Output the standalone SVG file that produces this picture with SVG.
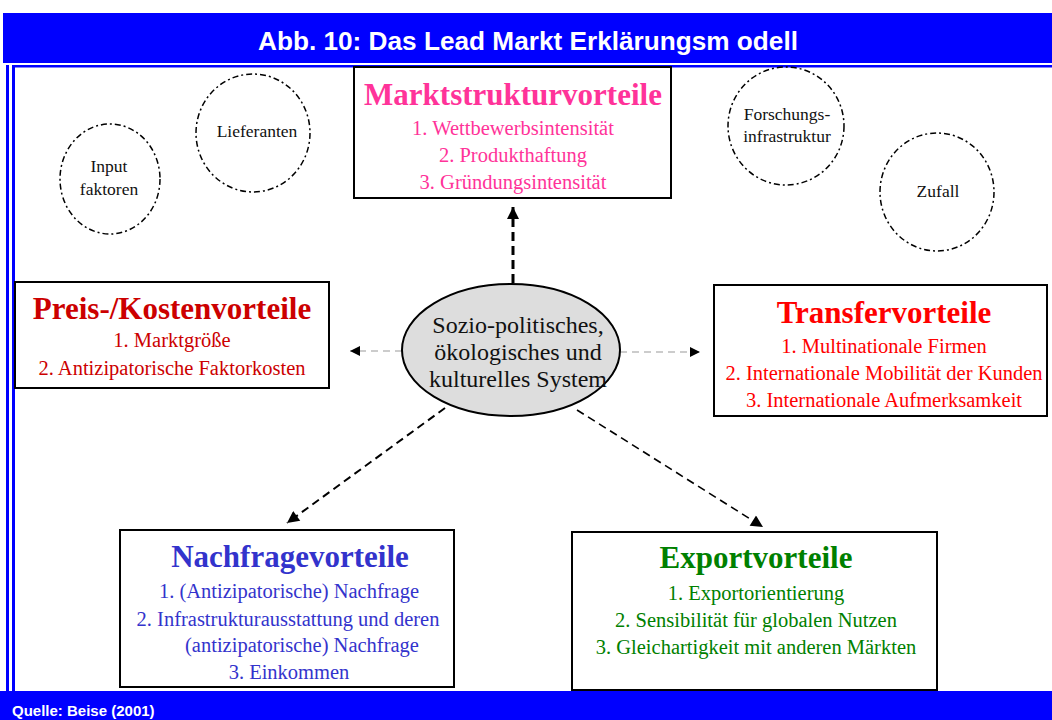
<svg xmlns="http://www.w3.org/2000/svg" width="1052" height="720" viewBox="0 0 1052 720">
<style>
.hdr{font-family:"Liberation Sans",Arial,sans-serif;font-weight:bold;fill:#fff}
.ttl{font-family:"Liberation Serif","Times New Roman",serif;font-weight:bold;font-size:31px;text-anchor:middle}
.itm{font-family:"Liberation Serif","Times New Roman",serif;font-size:20.5px;text-anchor:middle}
.sys{font-family:"Liberation Serif","Times New Roman",serif;font-size:24px;text-anchor:middle;fill:#111}
.sm{font-family:"Liberation Serif","Times New Roman",serif;font-size:17.5px;text-anchor:middle;fill:#111}
.box{fill:#fff;stroke:#000;stroke-width:2}
.circ{fill:none;stroke:#000;stroke-width:1.5;stroke-dasharray:6 3 2 3}
.pink{fill:#FF3399}.dred{fill:#CC0000}.red{fill:#FF0000}.blue{fill:#3333CC}.green{fill:#008000}
</style>
<defs>
<marker id="ah" viewBox="0 0 10 10" refX="10" refY="5" markerWidth="13" markerHeight="12" markerUnits="userSpaceOnUse" orient="auto"><path d="M0,0 L10,5 L0,10 z" fill="#000"/></marker>
<marker id="ahs" viewBox="0 0 10 10" refX="10" refY="5" markerWidth="11" markerHeight="10" markerUnits="userSpaceOnUse" orient="auto"><path d="M0,0 L10,5 L0,10 z" fill="#000"/></marker>
</defs>
<rect width="1052" height="720" fill="#fff"/>
<g id="frame">
<rect x="3" y="13" width="1049" height="50" fill="#0000FF"/>
<text class="hdr" x="528" y="50" font-size="25.5" text-anchor="middle" textLength="540" lengthAdjust="spacingAndGlyphs">Abb. 10: Das Lead Markt Erklärungsm odell</text>
<rect x="12" y="65" width="1040" height="2.5" fill="#0000FF"/>
<rect x="6" y="65" width="3" height="626" fill="#0000FF"/>
<rect x="12" y="65" width="3" height="626" fill="#0000FF"/>
<rect x="0" y="691" width="1052" height="29" fill="#0000FF"/>
<text class="hdr" x="12" y="716" font-size="15">Quelle: Beise (2001)</text>
</g>
<g id="connectors">
<line x1="513" y1="283" x2="513" y2="207" stroke="#000" stroke-width="3" stroke-dasharray="9 5" marker-end="url(#ah)"/>
<line x1="402" y1="351" x2="350" y2="351" stroke="#999" stroke-width="1" stroke-dasharray="7 5" marker-end="url(#ahs)"/>
<line x1="620" y1="352" x2="700" y2="352" stroke="#999" stroke-width="1" stroke-dasharray="7 5" marker-end="url(#ahs)"/>
<line x1="445" y1="408" x2="287" y2="523" stroke="#000" stroke-width="2" stroke-dasharray="8 5" marker-end="url(#ah)"/>
<line x1="577" y1="410" x2="763" y2="527" stroke="#000" stroke-width="1.6" stroke-dasharray="8 5" marker-end="url(#ah)"/>
</g>
<g id="input">
<ellipse class="circ" cx="110" cy="179" rx="50" ry="55"/>
<text class="sm" x="109" y="172">Input</text>
<text class="sm" x="109" y="195">faktoren</text>
</g>
<g id="lieferanten">
<ellipse class="circ" cx="253" cy="133" rx="57" ry="59"/>
<text class="sm" x="257" y="137">Lieferanten</text>
</g>
<g id="forschung">
<ellipse class="circ" cx="786" cy="126" rx="58" ry="59"/>
<text class="sm" x="787" y="120">Forschungs-</text>
<text class="sm" x="787" y="142">infrastruktur</text>
</g>
<g id="zufall">
<ellipse class="circ" cx="937" cy="192" rx="57" ry="59"/>
<text class="sm" x="938" y="197">Zufall</text>
</g>
<g id="marktstruktur">
<rect class="box" x="354" y="67" width="317" height="131"/>
<text class="ttl pink" x="513" y="105">Marktstrukturvorteile</text>
<text class="itm pink" x="513" y="135">1. Wettbewerbsintensität</text>
<text class="itm pink" x="513" y="162">2. Produkthaftung</text>
<text class="itm pink" x="513" y="189">3. Gründungsintensität</text>
</g>
<g id="preis">
<rect class="box" x="15" y="282" width="314" height="106"/>
<text class="ttl dred" x="172" y="319">Preis-/Kostenvorteile</text>
<text class="itm dred" x="172" y="347">1. Marktgröße</text>
<text class="itm dred" x="172" y="375">2. Antizipatorische Faktorkosten</text>
</g>
<g id="system">
<ellipse cx="511" cy="350" rx="109" ry="66" fill="#DDDDDD" stroke="#000" stroke-width="2"/>
<text class="sys" x="518" y="333">Sozio-politisches,</text>
<text class="sys" x="518" y="360">ökologisches und</text>
<text class="sys" x="518" y="387">kulturelles System</text>
</g>
<g id="transfer">
<rect class="box" x="714" y="285" width="333" height="131"/>
<text class="ttl red" x="884" y="323">Transfervorteile</text>
<text class="itm red" x="884" y="353">1. Multinationale Firmen</text>
<text class="itm red" x="884" y="380">2. Internationale Mobilität der Kunden</text>
<text class="itm red" x="884" y="407">3. Internationale Aufmerksamkeit</text>
</g>
<g id="nachfrage">
<rect class="box" x="120" y="530" width="334" height="157"/>
<text class="ttl blue" x="290" y="567">Nachfragevorteile</text>
<text class="itm blue" x="289" y="598">1. (Antizipatorische) Nachfrage</text>
<text class="itm blue" x="288" y="626">2. Infrastrukturausstattung und deren</text>
<text class="itm blue" x="302" y="652">(antizipatorische) Nachfrage</text>
<text class="itm blue" x="289" y="679">3. Einkommen</text>
</g>
<g id="export">
<rect class="box" x="572" y="532" width="365" height="158"/>
<text class="ttl green" x="756" y="568">Exportvorteile</text>
<text class="itm green" x="756" y="600">1. Exportorientierung</text>
<text class="itm green" x="756" y="627">2. Sensibilität für globalen Nutzen</text>
<text class="itm green" x="756" y="654">3. Gleichartigkeit mit anderen Märkten</text>
</g>
</svg>
